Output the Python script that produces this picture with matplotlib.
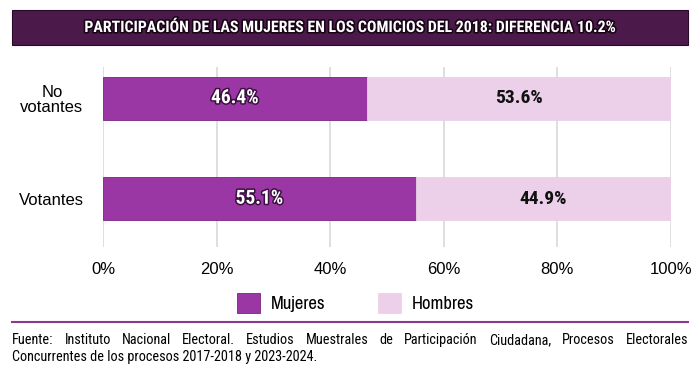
import matplotlib
matplotlib.use("Agg")
import matplotlib.pyplot as plt
import matplotlib.patheffects as pe
from matplotlib.patches import Rectangle
from matplotlib.lines import Line2D

# Data
categories = ["Votantes", "No\nvotantes"]
mujeres = [55.1, 46.4]
hombres = [44.9, 53.6]
xticks = [0, 20, 40, 60, 80, 100]
xtick_labels = ["0%", "20%", "40%", "60%", "80%", "100%"]
title = "PARTICIPACIÓN DE LAS MUJERES EN LOS COMICIOS DEL 2018: DIFERENCIA 10.2%"
fuente_1 = ("Fuente: Instituto Nacional Electoral. Estudios Muestrales de Participación "
            "Ciudadana, Procesos Electorales")
fuente_2 = "Concurrentes de los procesos 2017-2018 y 2023-2024."

c_muj = "#9b37a4"
c_hom = "#ecd0ea"
c_dark = "#4b1a4b"
cond = ["Roboto Condensed", "DejaVu Sans"]
narrow = ["Archivo Narrow", "DejaVu Sans"]
arial = ["Liberation Sans", "DejaVu Sans"]

fig = plt.figure(figsize=(7, 3.75), dpi=100)
ax = fig.add_axes([103 / 700, 1 - 247 / 375, 568 / 700, 180 / 375])

y = [0, 1]
ax.barh(y, mujeres, height=0.43, color=c_muj, edgecolor="#7d2285", linewidth=0.6,
        label="Mujeres", zorder=3)
ax.barh(y, hombres, left=mujeres, height=0.43, color=c_hom, edgecolor=c_hom,
        linewidth=0.6, label="Hombres", zorder=3)

for i in y:
    ax.text(mujeres[i] / 2, i, f"{mujeres[i]}%", ha="center", va="center",
            color="white", fontsize=14, fontweight="heavy", family=cond, zorder=4,
            path_effects=[pe.withStroke(linewidth=2.2, foreground="#3a1040")])
    ax.text(mujeres[i] + hombres[i] / 2, i, f"{hombres[i]}%", ha="center",
            va="center", color="#111111", fontsize=14, fontweight="heavy",
            family=cond, zorder=4)

ax.set_xlim(0, 100)
ax.set_ylim(-0.48, 1.31)
ax.set_xticks(xticks)
ax.set_xticklabels(xtick_labels, fontsize=12, family=arial)
ax.set_yticks(y)
ax.set_yticklabels(categories, fontsize=12, family=arial, linespacing=1.0,
                   multialignment="center")
ax.tick_params(axis="x", length=0, pad=11)
ax.tick_params(axis="y", length=0, pad=14)
ax.grid(axis="x", color="#d9d9d9", linewidth=1.2, zorder=0)
for s in ax.spines.values():
    s.set_visible(False)

# Title bar
fig.patches.append(Rectangle((12 / 700, 1 - 45 / 375), 676 / 700, 35 / 375,
                             transform=fig.transFigure, facecolor=c_dark,
                             edgecolor="#2a0a2a", linewidth=0.8))
fig.text(0.5, 1 - 27.5 / 375, title, ha="center", va="center", color="white",
         fontsize=11.4, fontweight="heavy", family=cond, fontstretch="condensed",
         path_effects=[pe.withStroke(linewidth=2.4, foreground="#1a0518")])

# Legend
fig.legend(loc="center", bbox_to_anchor=(0.508, 1 - 303 / 375), ncol=2, frameon=False,
           prop={"family": narrow, "size": 13.5}, handlelength=1.2, handleheight=1.2,
           columnspacing=2.8, handletextpad=0.6)

# Separator line
fig.add_artist(Line2D([12 / 700, 688 / 700], [1 - 322 / 375] * 2,
                      transform=fig.transFigure, color="#8b3a8f", linewidth=1.5))

# Footer, first line justified
left, right = 12 / 700, 688 / 700
words = fuente_1.split(" ")
renderer = fig.canvas.get_renderer()
ts = [fig.text(0, 1 - 340 / 375, w, fontsize=10.3, family=cond, va="center")
      for w in words]
widths = [t.get_window_extent(renderer).width / fig.bbox.width for t in ts]
gap = max((right - left - sum(widths)) / (len(words) - 1), 0.004)
xpos = left
for t, w in zip(ts, widths):
    t.set_x(xpos)
    xpos += w + gap
fig.text(left, 1 - 357 / 375, fuente_2, fontsize=10.3, family=cond, va="center")

fig.savefig("out.png", dpi=100)
